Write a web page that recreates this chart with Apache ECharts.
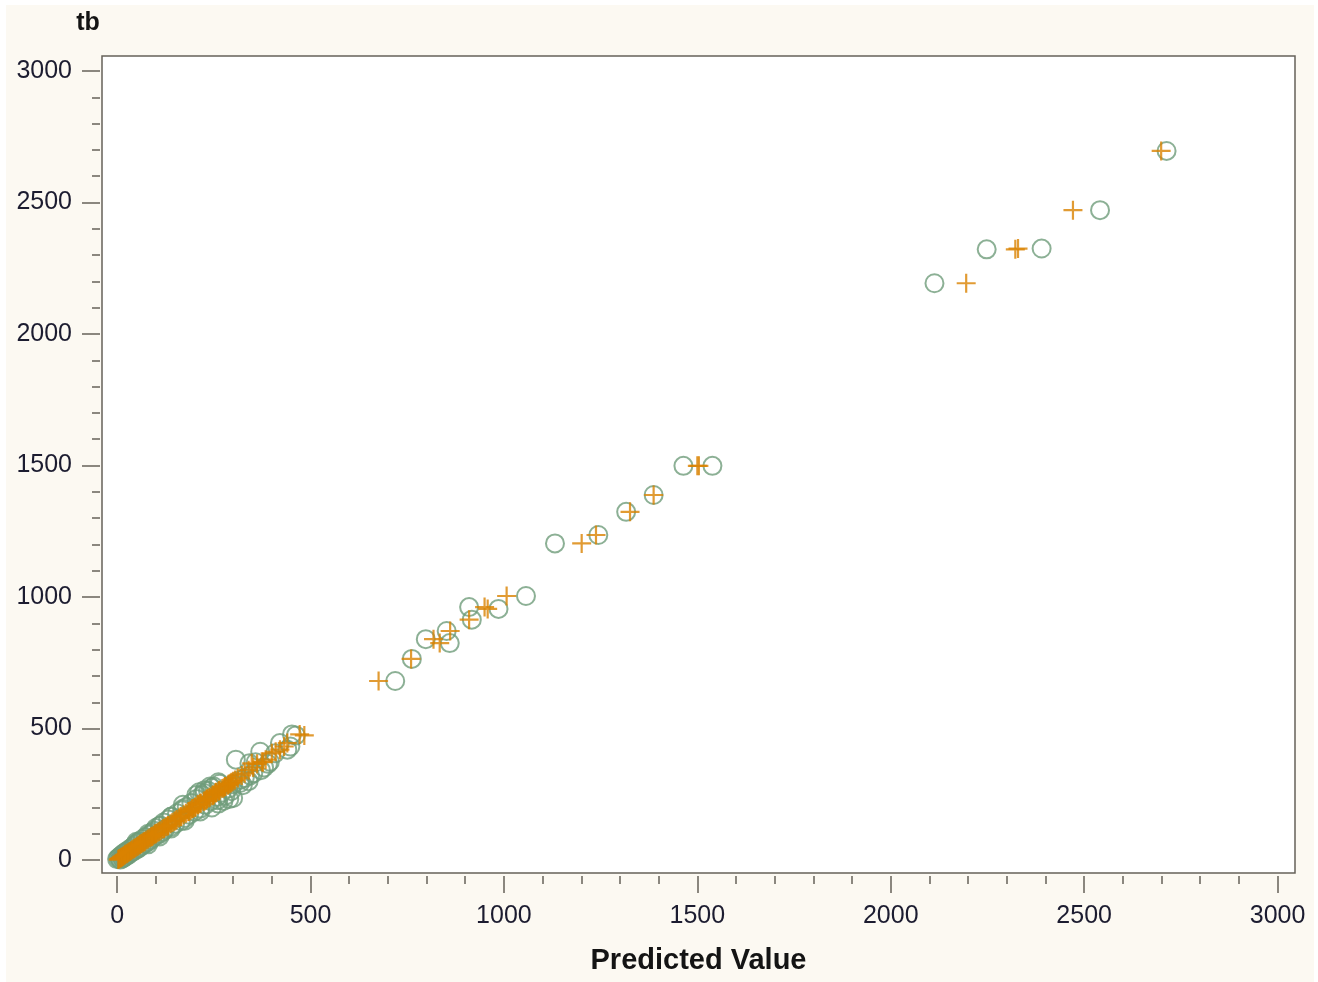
<!DOCTYPE html>
<html lang="en">
<head>
    <meta charset="UTF-8">
    <title>tb vs Predicted Value</title>
    <style>
        body { margin: 0; background: #ffffff; }
        #chart { position: absolute; left: 6px; top: 5px; width: 1308px; height: 977px; }
    </style>
</head>
<body>
<div id="chart"></div>
<script src="https://cdn.jsdelivr.net/npm/echarts@6/dist/echarts.min.js"></script>
<script type="text/javascript">
    // observed tb, and the two predicted values (circle series / plus series)
    const tb = [
        2696, 2471, 2322, 2325, 2193, 1499, 1499, 1388, 1324, 1236,
        1204, 1004, 962, 955, 914, 871, 840, 825, 765, 681,
        478, 474, 445, 432, 420, 412, 406, 382, 374, 372,
        368, 366, 352, 342, 330, 322, 312, 293, 300, 285,
        2, 4, 6, 8, 10, 12, 14, 17, 19, 22,
        24, 27, 30, 33, 36, 39, 42, 45, 48, 52,
        55, 58, 62, 65, 68, 72, 76, 80, 84, 88,
        92, 96, 100, 104, 108, 112, 117, 122, 127, 132,
        138, 143, 148, 154, 160, 166, 172, 178, 184, 190,
        196, 203, 210, 217, 224, 232, 240, 248, 256, 264,
        272, 280, 288, 296, 305,
        266, 280, 258, 248, 210, 232, 225, 236, 215, 200,
        150, 165, 185, 195, 228, 245, 255, 262, 275, 290,
        120, 130, 60, 70, 90, 100
    ];
    const predCircle = [
        2713, 2541, 2248, 2390, 2113, 1464, 1539, 1387, 1316, 1244,
        1132, 1057, 910, 986, 917, 852, 798, 860, 762, 719,
        452, 462, 421, 448, 440, 370, 408, 307, 395, 358,
        342, 390, 380, 372, 352, 344, 330, 318, 340, 325,
        8, 0, 14, 3, 18, 6, 22, 10, 28, 14,
        32, 18, 38, 24, 45, 30, 52, 36, 58, 42,
        64, 46, 72, 52, 78, 58, 86, 66, 92, 74,
        100, 84, 110, 90, 118, 96, 124, 100, 140, 112,
        150, 120, 165, 132, 175, 140, 186, 155, 200, 168,
        215, 180, 228, 192, 242, 205, 258, 220, 270, 235,
        288, 250, 300, 262, 318,
        226, 240, 212, 205, 170, 290, 275, 300, 262, 245,
        175, 140, 215, 170, 260, 280, 225, 295, 245, 265,
        140, 110, 80, 50, 110, 80
    ];
    const predPlus = [
        2699, 2471, 2322, 2329, 2195, 1500, 1504, 1387, 1326, 1238,
        1201, 1007, 950, 958, 910, 861, 818, 834, 760, 676,
        472, 484, 440, 432, 421, 410, 400, 384, 374, 377,
        348, 362, 352, 340, 330, 322, 312, 294, 300, 286,
        3, 5, 6, 9, 11, 12, 15, 17, 20, 21,
        25, 27, 30, 33, 36, 39, 43, 45, 48, 52,
        55, 58, 62, 65, 68, 72, 76, 80, 84, 88,
        92, 96, 100, 104, 108, 112, 117, 122, 127, 132,
        138, 143, 148, 154, 160, 166, 172, 178, 184, 190,
        196, 203, 210, 217, 224, 232, 240, 248, 256, 264,
        272, 280, 288, 296, 305,
        265, 279, 256, 250, 208, 232, 226, 237, 214, 201,
        151, 164, 186, 194, 229, 246, 254, 262, 276, 291,
        121, 131, 60, 70, 90, 99
    ];

    const majorTicks = [0, 500, 1000, 1500, 2000, 2500, 3000];
    const minorTicks = [];
    for (let v = 100; v < 3000; v += 100) {
        if (v % 500 !== 0) minorTicks.push(v);
    }

    const frameColor = '#66625a';
    const fontFam = 'Liberation Sans, Arial, sans-serif';

    function makeAxis(dim, ticks, len, withLabels) {
        return {
            type: 'value',
            min: dim === 'x' ? -39 : -49,
            max: dim === 'x' ? 3045 : 3057,
            position: dim === 'x' ? 'bottom' : 'left',
            offset: dim === 'x' ? 3 : 2,
            axisLine: { show: false, onZero: false },
            splitLine: { show: false },
            axisTick: {
                show: true,
                customValues: ticks,
                length: len,
                lineStyle: { color: frameColor, width: 1.5 }
            },
            axisLabel: withLabels ? {
                show: true,
                customValues: ticks,
                margin: 28,
                fontSize: 25,
                fontFamily: fontFam,
                color: '#1c1c30',
                formatter: v => String(v)
            } : { show: false }
        };
    }

    const xMain = makeAxis('x', majorTicks, 17, true);
    xMain.name = 'Predicted Value';
    xMain.nameLocation = 'middle';
    xMain.nameGap = 70;
    xMain.nameTextStyle = { fontSize: 29, fontWeight: 'bold', fontFamily: fontFam, color: '#141414' };

    const yMain = makeAxis('y', majorTicks, 18, true);
    yMain.name = 'tb';
    yMain.nameLocation = 'end';
    yMain.nameGap = 20;
    yMain.nameTextStyle = { fontSize: 25, fontWeight: 'bold', fontFamily: fontFam, color: '#141414', padding: [0, 24, 0, 0] };

    const chart = echarts.init(document.getElementById('chart'));
    chart.setOption({
        animation: false,
        backgroundColor: '#fcf9f2',
        grid: {
            left: 96, top: 51, width: 1193, height: 817,
            show: true,
            backgroundColor: '#ffffff',
            borderColor: frameColor,
            borderWidth: 1.5
        },
        xAxis: [xMain, makeAxis('x', minorTicks, 8, false)],
        yAxis: [yMain, makeAxis('y', minorTicks, 8, false)],
        series: [
            {
                type: 'scatter',
                xAxisIndex: 0, yAxisIndex: 0,
                symbol: 'circle',
                symbolSize: 18,
                itemStyle: { color: 'rgba(0,0,0,0)', borderColor: '#6f9c7b', borderWidth: 2 },
                data: tb.map((y, i) => [predCircle[i], y])
            },
            {
                type: 'scatter',
                xAxisIndex: 0, yAxisIndex: 0,
                symbol: 'path://M5,0 L5,10 M0,5 L10,5',
                symbolSize: 19,
                itemStyle: { color: 'rgba(0,0,0,0)', borderColor: '#d98200', borderWidth: 2.2 },
                data: tb.map((y, i) => [predPlus[i], y])
            }
        ]
    });
</script>
</body>
</html>
